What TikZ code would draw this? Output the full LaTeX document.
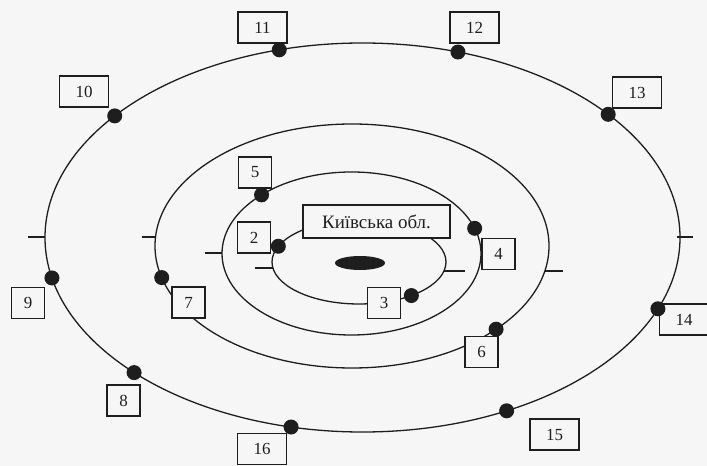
\documentclass[tikz,border=0pt]{standalone}
\usepackage{fontspec}
\setmainfont{Liberation Serif}
\usetikzlibrary{calc}
\definecolor{ink}{RGB}{30,30,30}
\definecolor{bg}{RGB}{246,246,246}
\begin{document}
\begin{tikzpicture}[x=1bp,y=-1bp,
  orbit/.style={draw=ink, line width=1.3bp},
  axistick/.style={draw=ink, line width=1.3bp},
  pt/.style={circle, fill=ink, inner sep=0pt, minimum size=15bp},
  lbl/.style={draw=ink, fill=bg, line width=1.3bp, inner sep=0pt, minimum height=31bp, text=ink, font=\fontsize{17}{17}\selectfont},
  one/.style={lbl, minimum width=33bp},
  two/.style={lbl, minimum width=49bp}]
\useasboundingbox[fill=bg] (0,0) rectangle (707,466);
% ellipse centres
\coordinate (c1) at (359,262);
\coordinate (c2) at (351.5,253.5);
\coordinate (c3) at (352,246);
\coordinate (c4) at (362.5,237.5);
% orbits
\draw[orbit] (c1) ellipse [x radius=87bp, y radius=42bp];
\draw[orbit] (c2) ellipse [x radius=129.5bp, y radius=81.5bp];
\draw[orbit] (c3) ellipse [x radius=197bp, y radius=122bp];
\draw[orbit] (c4) ellipse [x radius=317.5bp, y radius=194.5bp];
% axis ticks
\draw[axistick] (28,237) -- (45,237);
\draw[axistick] (677,237) -- (693,237);
\draw[axistick] (142,237) -- (155,237);
\draw[axistick] (545,271) -- (563,271);
\draw[axistick] (205,253) -- (222,253);
\draw[axistick] (255,268) -- (273,268);
\draw[axistick] (444,271) -- (465,271);
% centre
\fill[ink] (360,263) ellipse [x radius=25bp, y radius=7bp];
% labels
\node[lbl, minimum width=147bp, minimum height=33bp, font=\fontsize{19}{19}\selectfont] (kyiv) at (376.5,221.5) {Київська обл.};
\node[one] (l2) at (254,237.5) {2};
\node[one] (l3) at (384,303) {3};
\node[one] (l4) at (498.5,254) {4};
\node[one] (l5) at (255,172.5) {5};
\node[one] (l6) at (481.5,352) {6};
\node[one] (l7) at (188.5,302.5) {7};
\node[one] (l8) at (123.5,400.5) {8};
\node[one] (l9) at (28,303) {9};
\node[two] (l10) at (84,91.5) {10};
\node[two] (l11) at (262.5,27.5) {11};
\node[two] (l12) at (474.5,27.5) {12};
\node[two] (l13) at (637,92.5) {13};
\node[two] (l14) at (684,319.5) {14};
\node[two] (l15) at (554.5,434.5) {15};
\node[two] (l16) at (262,449) {16};
% points on orbits
\node[pt] (d2) at ($(c1)+(158:87bp and 42bp)$) {};
\node[pt] (d3) at ($(c1)+(307:87bp and 42bp)$) {};
\node[pt] (d5) at ($(c2)+(134:129.5bp and 81.5bp)$) {};
\node[pt] (d4) at ($(c2)+(18:129.5bp and 81.5bp)$) {};
\node[pt] (d7) at ($(c3)+(195:197bp and 122bp)$) {};
\node[pt] (d6) at ($(c3)+(317:197bp and 122bp)$) {};
\node[pt] (d11) at ($(c4)+(105.2:317.5bp and 194.5bp)$) {};
\node[pt] (d12) at ($(c4)+(72.5:317.5bp and 194.5bp)$) {};
\node[pt] (d10) at ($(c4)+(141.3:317.5bp and 194.5bp)$) {};
\node[pt] (d13) at ($(c4)+(39.3:317.5bp and 194.5bp)$) {};
\node[pt] (d9) at ($(c4)+(192:317.5bp and 194.5bp)$) {};
\node[pt] (d8) at ($(c4)+(224:317.5bp and 194.5bp)$) {};
\node[pt] (d16) at ($(c4)+(257:317.5bp and 194.5bp)$) {};
\node[pt] (d15) at ($(c4)+(297:317.5bp and 194.5bp)$) {};
\node[pt] (d14) at ($(c4)+(338.5:317.5bp and 194.5bp)$) {};
\end{tikzpicture}
\end{document}
